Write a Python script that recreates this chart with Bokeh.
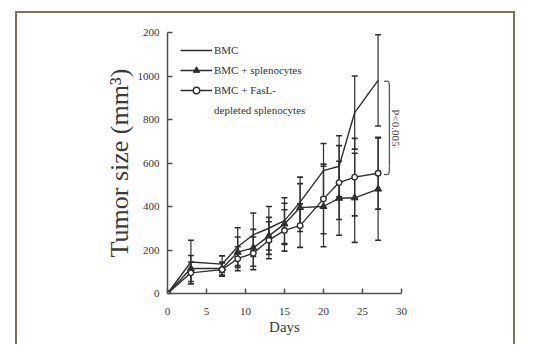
from bokeh.plotting import figure
from bokeh.models import ColumnDataSource, Whisker, TeeHead, Legend, LegendItem
from bokeh.embed import file_html
from bokeh.resources import INLINE
from bokeh.core.properties import value

days = [0, 3, 7, 9, 11, 13, 15, 17, 20, 22, 24, 27]
bmc = [0, 145, 135, 215, 270, 300, 335, 420, 565, 585, 832, 980]
bmc_err = [0, 100, 38, 87, 100, 100, 105, 115, 125, 140, 168, 210]
spl = [0, 115, 115, 190, 210, 265, 320, 395, 400, 438, 440, 480]
spl_err = [0, 60, 30, 70, 85, 85, 95, 110, 185, 170, 205, 235]
fas = [0, 95, 110, 160, 185, 245, 290, 312, 435, 510, 535, 553]
fas_err = [0, 50, 30, 55, 75, 85, 95, 100, 160, 170, 178, 165]

y_ticks = [0, 200, 400, 600, 800, 1000, 1200]
y_tick_labels = ["0", "200", "400", "600", "800", "1000", "200"]
x_ticks = [0, 5, 10, 15, 20, 25, 30]

bracket_x = [27.75, 28.45, 28.45, 27.75]
bracket_y = [975, 950, 580, 548]
p_label = "P<0.005"

FONT = "Liberation Serif"
INK = "#2e2e2e"

p = figure(width=500, height=333, x_range=(0, 30), y_range=(0, 1200),
           output_backend="svg", toolbar_location=None,
           min_border_left=150, min_border_right=116, min_border_top=19, min_border_bottom=53)
p.outline_line_color = None
p.grid.visible = False
p.styles = {"margin-left": "15px", "margin-top": "11px",
            "border-top": "2px solid #77745a", "border-left": "2px solid #77745a",
            "border-right": "2px solid #77745a"}

def add_err(ys, errs):
    src = ColumnDataSource(dict(x=days, lo=[a - b for a, b in zip(ys, errs)], hi=[a + b for a, b in zip(ys, errs)]))
    w = Whisker(base="x", upper="hi", lower="lo", source=src, line_color=INK, line_width=1.2,
                upper_head=TeeHead(size=6, line_color=INK, line_width=1.6),
                lower_head=TeeHead(size=6, line_color=INK, line_width=1.6))
    p.add_layout(w)

add_err(bmc, bmc_err)
add_err(spl, spl_err)
add_err(fas, fas_err)

r1 = p.line(days, bmc, line_color=INK, line_width=1.4)
r2l = p.line(days, spl, line_color=INK, line_width=1.4)
r2m = p.scatter(days, spl, marker="triangle", size=7, fill_color=INK, line_color=INK)
r3l = p.line(days, fas, line_color=INK, line_width=1.4)
r3m = p.scatter(days, fas, marker="circle", size=5.5, fill_color="white", line_color=INK, line_width=1.4)

# bracket
p.bezier(x0=[bracket_x[0]], y0=[bracket_y[0]], x1=[bracket_x[1]], y1=[bracket_y[1] - 10],
         cx0=[bracket_x[1]], cy0=[bracket_y[0] + 5], cx1=[bracket_x[1]], cy1=[bracket_y[0]],
         line_color="#555555", line_width=1.3)
p.segment(x0=[bracket_x[1]], y0=[bracket_y[1] - 10], x1=[bracket_x[2]], y1=[bracket_y[2] + 10],
          line_color="#555555", line_width=1.3)
p.bezier(x0=[bracket_x[2]], y0=[bracket_y[2] + 10], x1=[bracket_x[3]], y1=[bracket_y[3]],
         cx0=[bracket_x[2]], cy0=[bracket_y[3]], cx1=[bracket_x[2]], cy1=[bracket_y[3] - 5],
         line_color="#555555", line_width=1.3)
p.text(x=[29.3], y=[(bracket_y[0] + bracket_y[3]) / 2], text=[p_label], angle=-1.5708,
       text_font=value(FONT), text_font_size="11px", text_color="#444444",
       text_align="center", text_baseline="middle")

legend = Legend(items=[
    LegendItem(label="BMC", renderers=[r1]),
    LegendItem(label="BMC + splenocytes", renderers=[r2l, r2m]),
    LegendItem(label="BMC + FasL-", renderers=[r3l, r3m]),
    LegendItem(label="depleted splenocytes", renderers=[]),
], location=(13, 175), padding=0, margin=0, spacing=4, glyph_width=32, glyph_height=16,
   label_height=16, label_standoff=2, border_line_alpha=0, background_fill_alpha=0,
   label_text_font=FONT, label_text_font_size="11px", label_text_color="#333333")
p.add_layout(legend)

for ax in (p.xaxis[0], p.yaxis[0]):
    ax.axis_line_color = "#505050"
    ax.axis_line_width = 1.5
    ax.major_tick_line_color = "#505050"
    ax.major_tick_line_width = 1.5
    ax.major_tick_in = 5
    ax.major_tick_out = 0
    ax.minor_tick_line_color = None
    ax.major_label_text_font = FONT
    ax.major_label_text_font_size = "11px"
    ax.major_label_text_color = "#333333"
    ax.axis_label_text_font = FONT
    ax.axis_label_text_font_style = "normal"
    ax.axis_label_text_color = "#3a3a3a"

p.xaxis.ticker = x_ticks
p.yaxis.ticker = y_ticks
p.yaxis.major_label_overrides = {t: l for t, l in zip(y_ticks, y_tick_labels)}
p.xaxis.axis_label = "Days"
p.yaxis.axis_label = "Tumor size (mm³)"
p.xaxis.axis_label_text_font_size = "15px"
p.yaxis.axis_label_text_font_size = "26px"
p.xaxis.major_label_standoff = 14
p.yaxis.major_label_standoff = 8
p.xaxis.axis_label_standoff = 1
p.yaxis.axis_label_standoff = 1

open("out.html", "w").write(file_html(p, INLINE))
